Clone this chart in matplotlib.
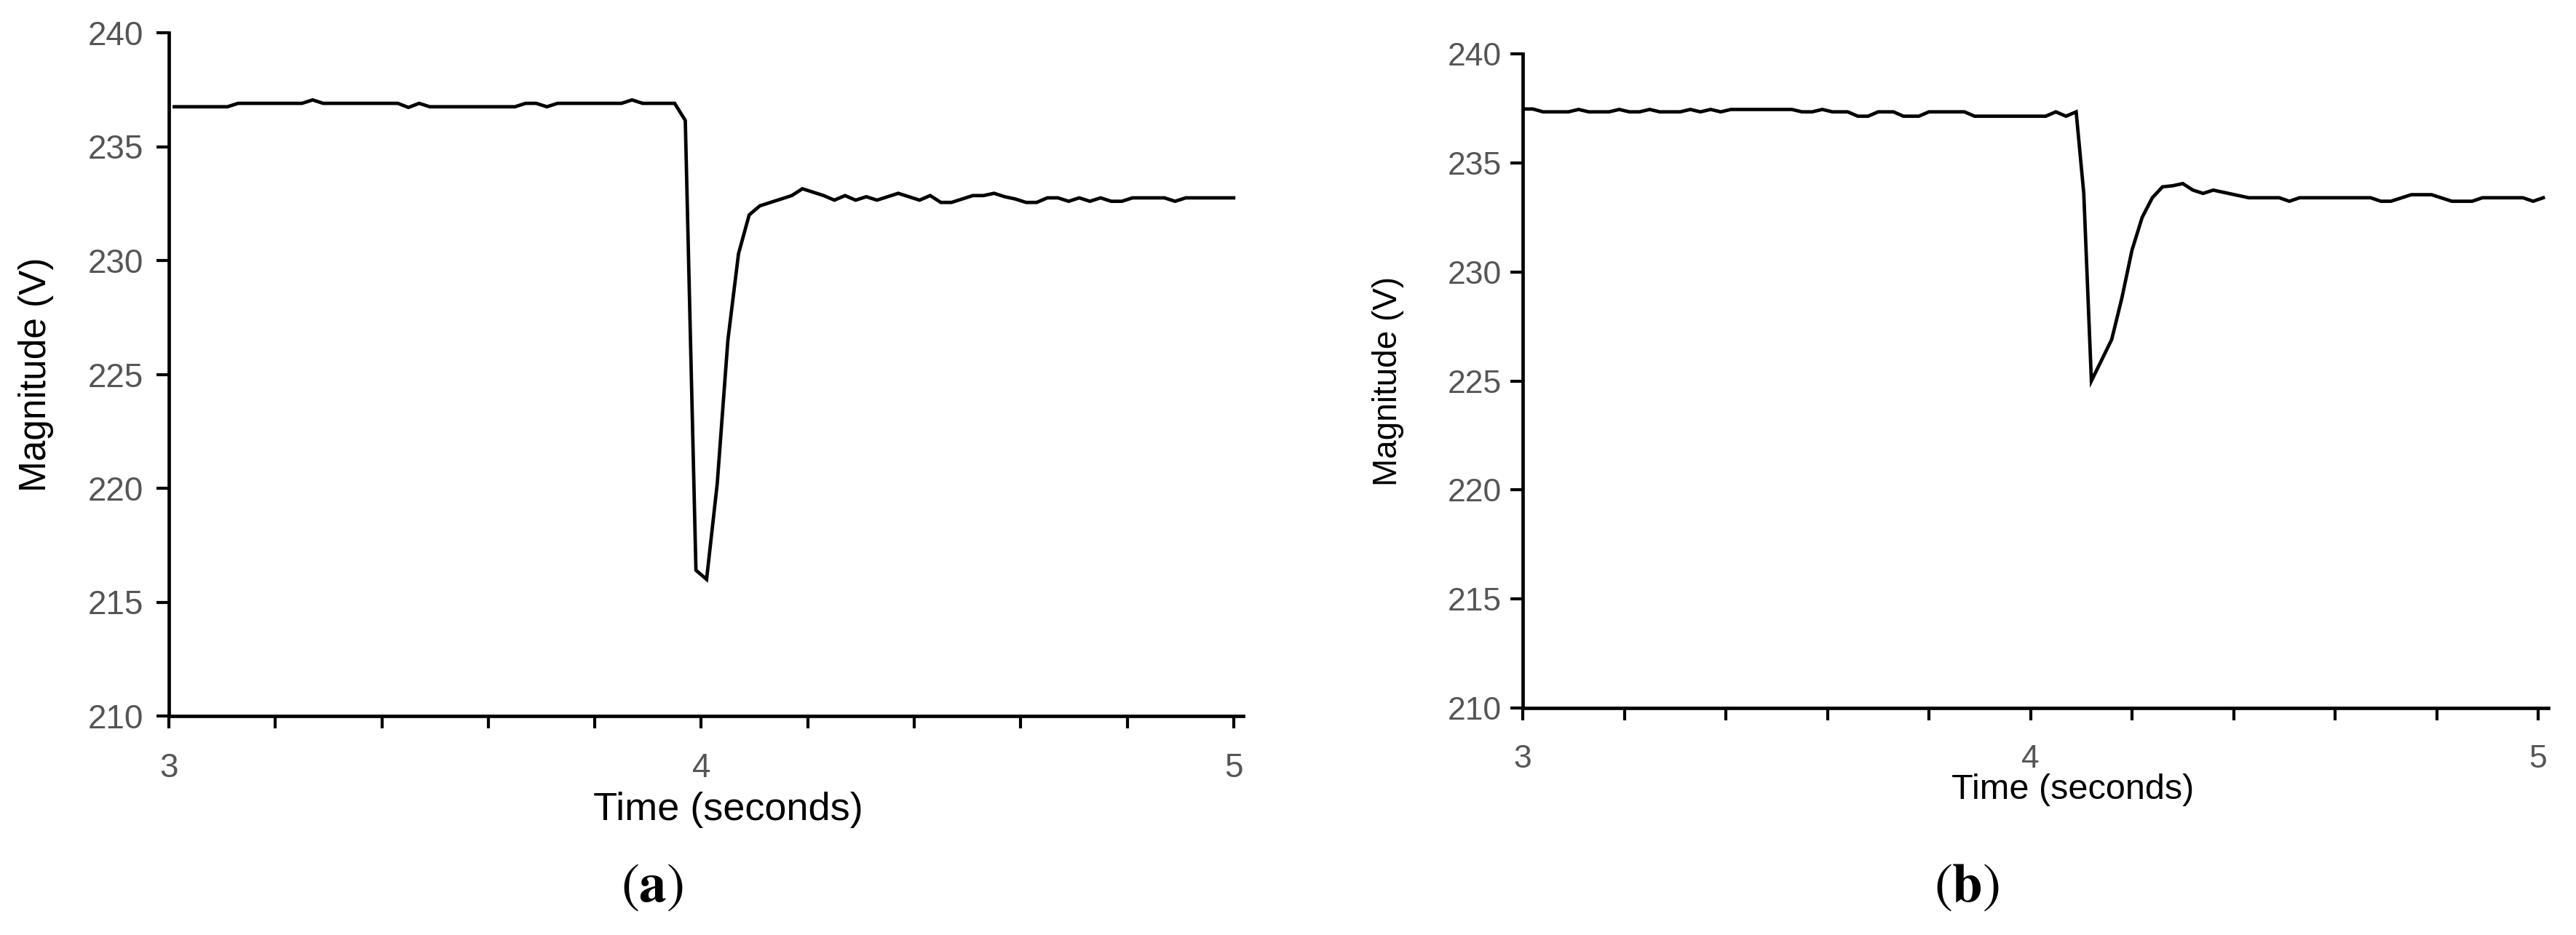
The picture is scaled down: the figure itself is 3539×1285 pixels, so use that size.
import matplotlib
matplotlib.use("Agg")
import matplotlib.pyplot as plt
from matplotlib import font_manager
import numpy as np

# ---------------- data ----------------
time_a = [3.01, 3.11, 3.13, 3.25, 3.27, 3.29, 3.43, 3.45, 3.47, 3.49, 3.65, 3.67,
          3.69, 3.71, 3.73, 3.85, 3.87, 3.89, 3.95, 3.97, 3.99, 4.01, 4.03, 4.05,
          4.07, 4.09, 4.11, 4.13, 4.15, 4.17, 4.19, 4.21, 4.23, 4.25, 4.27, 4.29,
          4.31, 4.33, 4.35, 4.37, 4.39, 4.41, 4.43, 4.45, 4.47, 4.49, 4.51, 4.53,
          4.55, 4.57, 4.59, 4.61, 4.63, 4.65, 4.67, 4.69, 4.71, 4.73, 4.75, 4.77,
          4.79, 4.81, 4.87, 4.89, 4.91, 5.00]
volt_a = [236.75, 236.75, 236.90, 236.90, 237.05, 236.90, 236.90, 236.72, 236.90, 236.75, 236.75, 236.90,
          236.90, 236.75, 236.90, 236.90, 237.05, 236.90, 236.90, 236.15, 216.40, 216.00, 220.20, 226.50,
          230.30, 232.00, 232.40, 232.55, 232.70, 232.85, 233.15, 233.00, 232.85, 232.65, 232.85, 232.65,
          232.80, 232.65, 232.80, 232.95, 232.80, 232.65, 232.85, 232.55, 232.55, 232.70, 232.85, 232.85,
          232.95, 232.80, 232.70, 232.55, 232.55, 232.75, 232.75, 232.60, 232.75, 232.60, 232.75, 232.60,
          232.60, 232.75, 232.75, 232.60, 232.75, 232.75]

time_b = [3.00, 3.02, 3.04, 3.09, 3.11, 3.13, 3.17, 3.19, 3.21, 3.23, 3.25, 3.27,
          3.31, 3.33, 3.35, 3.37, 3.39, 3.41, 3.53, 3.55, 3.57, 3.59, 3.61, 3.64,
          3.66, 3.68, 3.70, 3.73, 3.75, 3.78, 3.80, 3.87, 3.89, 4.03, 4.05, 4.07,
          4.09, 4.105, 4.12, 4.16, 4.18, 4.20, 4.22, 4.24, 4.26, 4.28, 4.30, 4.32,
          4.34, 4.36, 4.40, 4.43, 4.49, 4.51, 4.53, 4.67, 4.69, 4.71, 4.75, 4.79,
          4.83, 4.87, 4.89, 4.97, 4.99, 5.01]
volt_b = [237.47, 237.47, 237.34, 237.34, 237.45, 237.34, 237.34, 237.45, 237.34, 237.34, 237.45, 237.34,
          237.34, 237.45, 237.34, 237.45, 237.34, 237.45, 237.45, 237.34, 237.34, 237.45, 237.34, 237.34,
          237.14, 237.14, 237.34, 237.34, 237.14, 237.14, 237.34, 237.34, 237.14, 237.14, 237.34, 237.14,
          237.34, 233.60, 225.00, 226.90, 228.80, 231.00, 232.50, 233.40, 233.90, 233.95, 234.05, 233.75,
          233.60, 233.75, 233.55, 233.40, 233.40, 233.24, 233.40, 233.40, 233.24, 233.24, 233.54, 233.54,
          233.24, 233.24, 233.40, 233.40, 233.24, 233.40]

y_ticks = [210, 215, 220, 225, 230, 235, 240]
x_major = [3, 4, 5]
x_minor = [3.2, 3.4, 3.6, 3.8, 4.2, 4.4, 4.6, 4.8]
panel_labels = ["a", "b"]
x_label = "Time (seconds)"
y_label = "Magnitude (V)"

# ---------------- fonts ----------------
avail = {f.name for f in font_manager.fontManager.ttflist}
narrow = "Liberation Sans Narrow" if "Liberation Sans Narrow" in avail else "Liberation Sans"
plt.rcParams["font.family"] = ["Liberation Sans", "DejaVu Sans"]
plt.rcParams["mathtext.fontset"] = "stix"

W, H = 3539, 1285
fig = plt.figure(figsize=(W / 100, H / 100), dpi=100)
fig.patch.set_facecolor("white")


def rect(x0, x1, ytop, ybot):
    return [x0 / W, 1 - ybot / H, (x1 - x0) / W, (ybot - ytop) / H]


ax1 = fig.add_axes(rect(232, 1708, 45, 984))
ax2 = fig.add_axes(rect(2092, 3501, 74, 973))

TICK_GRAY = "#555555"
left_size = 36 if narrow != "Liberation Sans" else 33

for ax, t, v, xmax, fam, tsize, ypad in [
    (ax1, time_a, volt_a, 5.018, narrow, left_size, 13),
    (ax2, time_b, volt_b, 5.02, "Liberation Sans", 32, 9),
]:
    ax.plot(t, v, color="black", lw=3.4, solid_joinstyle="miter")
    ax.set_xlim(3, xmax)
    ax.set_ylim(210, 240)
    for s in ["top", "right"]:
        ax.spines[s].set_visible(False)
    for s in ["left", "bottom"]:
        ax.spines[s].set_linewidth(3.4)
        ax.spines[s].set_color("black")
    ax.set_yticks(y_ticks)
    ax.set_xticks(x_major)
    ax.set_xticks(x_minor, minor=True)
    ax.tick_params(axis="both", which="both", direction="out", length=12,
                   width=3.0, color="black")
    ax.tick_params(axis="y", pad=ypad)
    ax.tick_params(axis="x", which="major", pad=24)
    for lab in ax.get_xticklabels() + ax.get_yticklabels():
        lab.set_fontfamily([fam, "DejaVu Sans"])
        lab.set_fontsize(tsize)
        lab.set_color(TICK_GRAY)

# axis titles
fig.text(1000 / W, 1 - 1113 / H, x_label, ha="center", va="center",
         fontsize=39, family=[narrow, "DejaVu Sans"], color="black")
fig.text(50 / W, 1 - 515 / H, y_label, ha="center", va="center", rotation=90,
         fontsize=37, family=[narrow, "DejaVu Sans"], color="black")
fig.text(2848 / W, 1 - 1086 / H, x_label, ha="center", va="center",
         fontsize=35, color="black")
fig.text(1907 / W, 1 - 524 / H, y_label, ha="center", va="center", rotation=90,
         fontsize=33, color="black")

# panel letters
fig.text(896 / W, 1 - 1219 / H, r"$(\mathbf{%s})$" % panel_labels[0], ha="center",
         va="center", fontsize=54, color="black")
fig.text(2702 / W, 1 - 1219 / H, r"$(\mathbf{%s})$" % panel_labels[1], ha="center",
         va="center", fontsize=54, color="black")

fig.savefig("out.png", dpi=100, facecolor="white")
